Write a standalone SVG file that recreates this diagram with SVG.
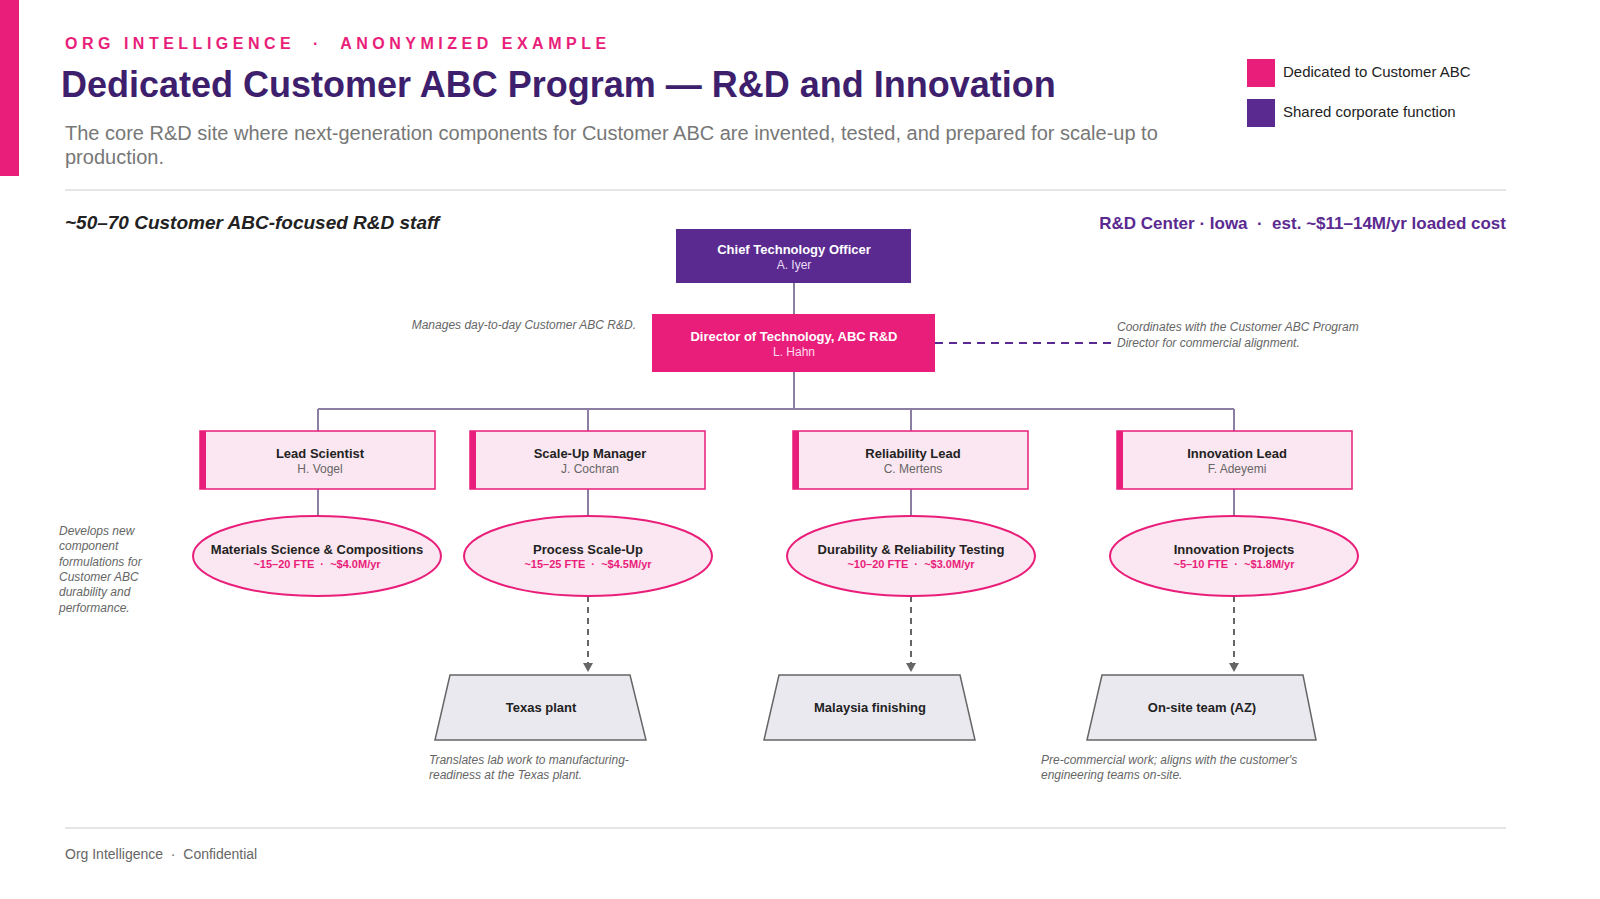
<svg xmlns="http://www.w3.org/2000/svg" width="1600" height="899" viewBox="0 0 1600 899">
<style>
text{font-family:"Liberation Sans",Arial,sans-serif;white-space:pre}
.t{font-weight:bold;font-size:13px;fill:#222;text-anchor:middle}
.s{font-size:12px;fill:#666;text-anchor:middle}
.m{font-weight:bold;font-size:11px;fill:#e91e7a;text-anchor:middle}
.n{font-style:italic;font-size:12px;fill:#666}
.box{fill:#fbe7f1;stroke:#e91e7a;stroke-width:1.5}
.ell{fill:#fbe7f1;stroke:#e91e7a;stroke-width:2}
.tr{fill:#ebe9f0;stroke:#666;stroke-width:1.5}
.ln{stroke:#8a7fa0;stroke-width:2;fill:none}
.dl{stroke:#666;stroke-width:2;stroke-dasharray:6 5;fill:none}
</style>
<defs><marker id="a" markerWidth="10" markerHeight="10" refX="9" refY="5" orient="auto" markerUnits="userSpaceOnUse"><path d="M0,0 L9,5 L0,10Z" fill="#666"/></marker></defs>
<rect width="1600" height="899" fill="#fff"/>
<rect x="0" y="0" width="19" height="176" fill="#e91e7a"/>
<text x="65" y="49" font-size="16" font-weight="bold" fill="#e91e7a" letter-spacing="4.5">ORG INTELLIGENCE  ·  ANONYMIZED EXAMPLE</text>
<text x="61" y="97" font-size="36" font-weight="bold" fill="#3e1f6e">Dedicated Customer ABC Program — R&amp;D and Innovation</text>
<text x="65" y="140" font-size="20" fill="#777">The core R&amp;D site where next-generation components for Customer ABC are invented, tested, and prepared for scale-up to</text>
<text x="65" y="164" font-size="20" fill="#777">production.</text>
<rect x="1247" y="59" width="28" height="28" fill="#e91e7a"/>
<text x="1283" y="77" font-size="15" fill="#222">Dedicated to Customer ABC</text>
<rect x="1247" y="99" width="28" height="28" fill="#5b2a91"/>
<text x="1283" y="117" font-size="15" fill="#222">Shared corporate function</text>
<line x1="65" y1="190" x2="1506" y2="190" stroke="#ccc"/>
<text x="65" y="229" font-size="19" font-weight="bold" font-style="italic" fill="#222">~50–70 Customer ABC-focused R&amp;D staff</text>
<text x="1506" y="229" font-size="17" font-weight="bold" fill="#5b2a91" text-anchor="end">R&amp;D Center · Iowa  ·  est. ~$11–14M/yr loaded cost</text>
<g id="connectors">
<path class="ln" d="M794,283V314M794,372V409M318,409H1234M318,409V431M588,409V431M911,409V431M1234,409V431M318,489V516M588,489V516M911,489V516M1234,489V516"/>
<path d="M935,343H1112" stroke="#5b2a91" stroke-width="2" stroke-dasharray="8 6"/>
<path class="dl" d="M588,596V672" marker-end="url(#a)"/>
<path class="dl" d="M911,596V672" marker-end="url(#a)"/>
<path class="dl" d="M1234,596V672" marker-end="url(#a)"/>
</g>
<g id="cto"><rect x="676" y="229" width="235" height="54" fill="#5b2a91"/><text x="794" y="254" class="t" style="fill:#fff">Chief Technology Officer</text><text x="794" y="269" class="s" style="fill:#e8dcf5">A. Iyer</text></g>
<g id="dir"><rect x="652" y="314" width="283" height="58" fill="#e91e7a"/><text x="794" y="341" class="t" style="fill:#fff">Director of Technology, ABC R&amp;D</text><text x="794" y="356" class="s" style="fill:#fde">L. Hahn</text></g>
<text x="636" y="329" class="n" text-anchor="end">Manages day-to-day Customer ABC R&amp;D.</text>
<text class="n" x="1117" y="331">Coordinates with the Customer ABC Program</text>
<text class="n" x="1117" y="347">Director for commercial alignment.</text>
<g id="lead1"><rect class="box" x="200" y="431" width="235" height="58"/><rect x="200" y="431" width="6" height="58" fill="#e91e7a"/><text class="t" x="320" y="458">Lead Scientist</text><text class="s" x="320" y="473">H. Vogel</text></g>
<g id="lead2"><rect class="box" x="470" y="431" width="235" height="58"/><rect x="470" y="431" width="6" height="58" fill="#e91e7a"/><text class="t" x="590" y="458">Scale-Up Manager</text><text class="s" x="590" y="473">J. Cochran</text></g>
<g id="lead3"><rect class="box" x="793" y="431" width="235" height="58"/><rect x="793" y="431" width="6" height="58" fill="#e91e7a"/><text class="t" x="913" y="458">Reliability Lead</text><text class="s" x="913" y="473">C. Mertens</text></g>
<g id="lead4"><rect class="box" x="1117" y="431" width="235" height="58"/><rect x="1117" y="431" width="6" height="58" fill="#e91e7a"/><text class="t" x="1237" y="458">Innovation Lead</text><text class="s" x="1237" y="473">F. Adeyemi</text></g>
<g id="e1"><ellipse class="ell" cx="317" cy="556" rx="124" ry="40"/><text class="t" x="317" y="554">Materials Science &amp; Compositions</text><text class="m" x="317" y="568">~15–20 FTE  ·  ~$4.0M/yr</text></g>
<g id="e2"><ellipse class="ell" cx="588" cy="556" rx="124" ry="40"/><text class="t" x="588" y="554">Process Scale-Up</text><text class="m" x="588" y="568">~15–25 FTE  ·  ~$4.5M/yr</text></g>
<g id="e3"><ellipse class="ell" cx="911" cy="556" rx="124" ry="40"/><text class="t" x="911" y="554">Durability &amp; Reliability Testing</text><text class="m" x="911" y="568">~10–20 FTE  ·  ~$3.0M/yr</text></g>
<g id="e4"><ellipse class="ell" cx="1234" cy="556" rx="124" ry="40"/><text class="t" x="1234" y="554">Innovation Projects</text><text class="m" x="1234" y="568">~5–10 FTE  ·  ~$1.8M/yr</text></g>
<text class="n"><tspan x="59" y="535">Develops new</tspan><tspan x="59" y="550">component</tspan><tspan x="59" y="566">formulations for</tspan><tspan x="59" y="581">Customer ABC</tspan><tspan x="59" y="596">durability and</tspan><tspan x="59" y="612">performance.</tspan></text>
<g id="tx"><path class="tr" d="M450,675H630L646,740H435Z"/><text class="t" x="541" y="712">Texas plant</text></g>
<g id="my"><path class="tr" d="M779,675H960L975,740H764Z"/><text class="t" x="870" y="712">Malaysia finishing</text></g>
<g id="az"><path class="tr" d="M1102,675H1303L1316,740H1087Z"/><text class="t" x="1202" y="712">On-site team (AZ)</text></g>
<text class="n"><tspan x="429" y="764">Translates lab work to manufacturing-</tspan><tspan x="429" y="779">readiness at the Texas plant.</tspan></text>
<text class="n"><tspan x="1041" y="764">Pre-commercial work; aligns with the customer's</tspan><tspan x="1041" y="779">engineering teams on-site.</tspan></text>
<line x1="65" y1="828" x2="1506" y2="828" stroke="#ccc"/>
<text x="65" y="859" font-size="14" fill="#666">Org Intelligence  ·  Confidential</text>
</svg>
